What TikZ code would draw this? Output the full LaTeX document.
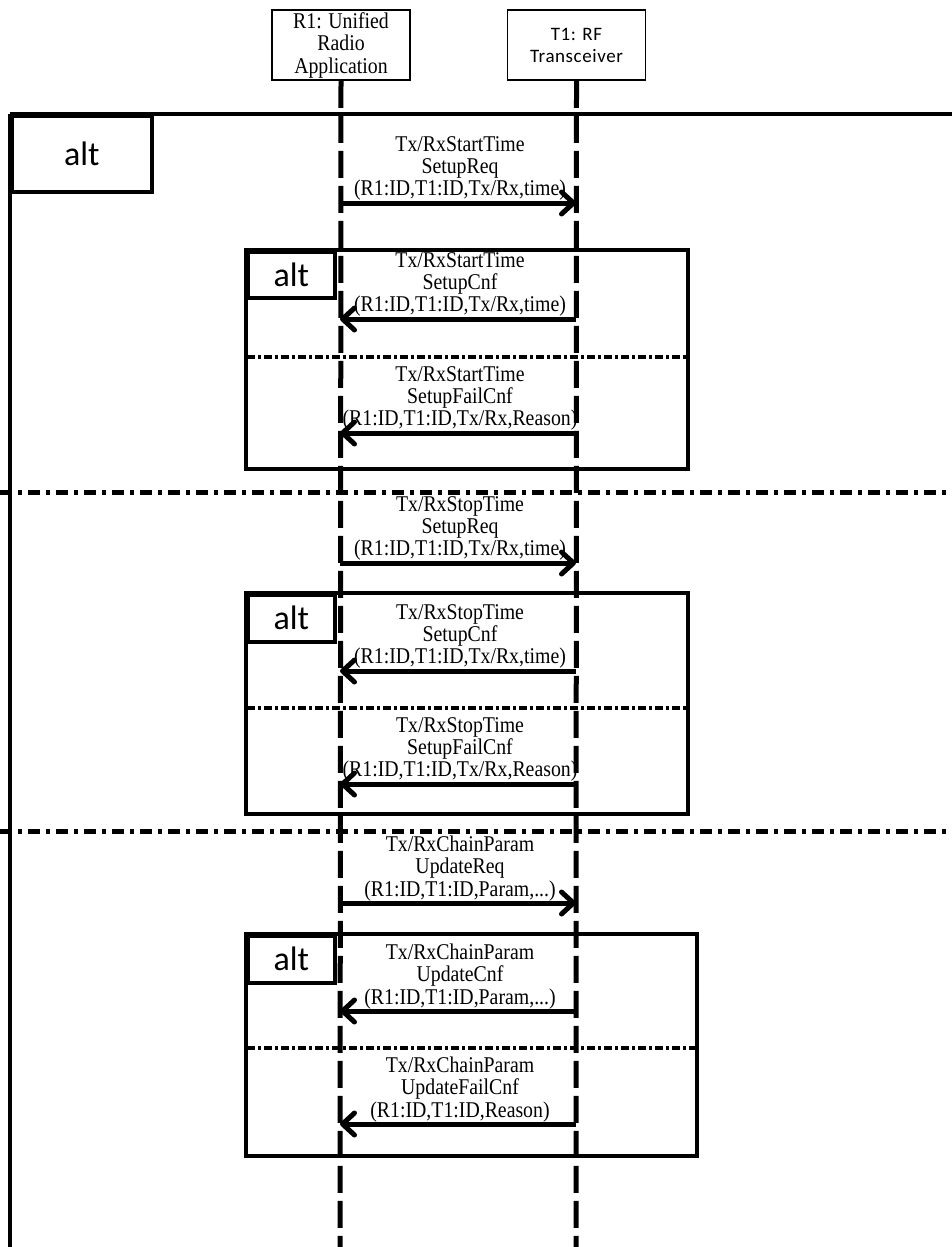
\documentclass[tikz,border=0pt]{standalone}
\usepackage{fontspec}
\usetikzlibrary{arrows.meta}
\newfontfamily\msgfont[FakeStretch=0.88]{Liberation Serif}
\newfontfamily\altfont{Carlito}
\newfontfamily\tfont[LetterSpace=3]{Carlito}
\begin{document}
\begin{tikzpicture}[x=1pt,y=-1pt,
  hdr/.style={draw,line width=1.8pt,minimum width=138pt,minimum height=70pt,inner sep=0pt,align=center},
  lifeline/.style={line width=5pt,dash pattern=on 27pt off 8pt},
  msg/.style={line width=5pt,-{Straight Barb[length=12pt,width=22pt,line cap=round,line join=round]}},
  msgtxt/.style={align=center,font=\msgfont\fontsize{22.5}{22.3}\selectfont,inner sep=0pt},
  frame/.style={draw,line width=3.5pt},
  altlbl/.style={draw,line width=3.5pt,inner sep=0pt,font=\altfont\fontsize{34}{36}\selectfont},
  bigdiv/.style={line width=5pt,dash pattern=on 12pt off 6pt on 4pt off 6pt},
  smalldiv/.style={line width=3.2pt,dash pattern=on 8pt off 3pt on 3pt off 3pt}]
\useasboundingbox (0,0) rectangle (951,1247);
% headers
\node[hdr,font=\msgfont\fontsize{22.5}{22.5}\selectfont] (R1) at (341,45) {R1: Unified\\Radio\\Application};
\node[hdr,font=\tfont\fontsize{19}{22}\selectfont] (T1) at (576.5,45) {T1: RF\\Transceiver};
\coordinate (R1end) at (340,1250);
\coordinate (T1end) at (576,1250);
% outer frame
\coordinate (OF1) at (10,1250);
\coordinate (OF2) at (10,114);
\coordinate (OF3) at (955,114);
\draw[line width=3.5pt] (OF1) -- (OF2);
\draw[line width=4.5pt] (OF2) -- (OF3);
\node[altlbl,minimum width=140pt,minimum height=76pt,anchor=north west] (A0) at (10,114) {alt};
% inner frames
\draw[frame] (246,250) rectangle (688,469);
\node[altlbl,minimum width=87pt,minimum height=46pt,anchor=north west] (A1) at (246,250) {alt};
\draw[frame] (246,593) rectangle (688,814);
\node[altlbl,minimum width=87pt,minimum height=47pt,anchor=north west] (A2) at (246,593) {alt};
\draw[frame] (246,934) rectangle (697,1156);
\node[altlbl,minimum width=87pt,minimum height=47pt,anchor=north west] (A3) at (246,934) {alt};
% dividers
\coordinate (D1a) at (0,492); \coordinate (D1b) at (955,492);
\coordinate (D2a) at (0,831); \coordinate (D2b) at (955,831);
\draw[bigdiv] (D1a) -- (D1b);
\draw[bigdiv] (D2a) -- (D2b);
\coordinate (d1a) at (247,357); \coordinate (d1b) at (687,357);
\coordinate (d2a) at (247,708); \coordinate (d2b) at (687,708);
\coordinate (d3a) at (247,1048); \coordinate (d3b) at (696,1048);
\draw[smalldiv] (d1a) -- (d1b);
\draw[smalldiv] (d2a) -- (d2b);
\draw[smalldiv] (d3a) -- (d3b);
% lifelines
\draw[lifeline] (R1.south) -- (R1end);
\draw[lifeline] (T1.south) -- (T1end);
% messages
\foreach \y/\t/\dir [count=\i] in {
  203/{Tx/RxStartTime\\SetupReq\\(R1:ID,T1:ID,Tx/Rx,time)}/r,
  319/{Tx/RxStartTime\\SetupCnf\\(R1:ID,T1:ID,Tx/Rx,time)}/l,
  433/{Tx/RxStartTime\\SetupFailCnf\\(R1:ID,T1:ID,Tx/Rx,Reason)}/l,
  563/{Tx/RxStopTime\\SetupReq\\(R1:ID,T1:ID,Tx/Rx,time)}/r,
  671/{Tx/RxStopTime\\SetupCnf\\(R1:ID,T1:ID,Tx/Rx,time)}/l,
  784/{Tx/RxStopTime\\SetupFailCnf\\(R1:ID,T1:ID,Tx/Rx,Reason)}/l,
  903/{Tx/RxChainParam\\UpdateReq\\(R1:ID,T1:ID,Param,...)}/r,
  1011/{Tx/RxChainParam\\UpdateCnf\\(R1:ID,T1:ID,Param,...)}/l,
  1124/{Tx/RxChainParam\\UpdateFailCnf\\(R1:ID,T1:ID,Reason)}/l}{
  \coordinate (ma\i) at (340,\y);
  \coordinate (mb\i) at (576,\y);
  \node[msgtxt] (mt\i) at (460,\y-34.5) {\t};
  \if r\dir
    \draw[msg] (ma\i) -- (mb\i);
  \else
    \draw[msg] (mb\i) -- (ma\i);
  \fi
}
\end{tikzpicture}
\end{document}
